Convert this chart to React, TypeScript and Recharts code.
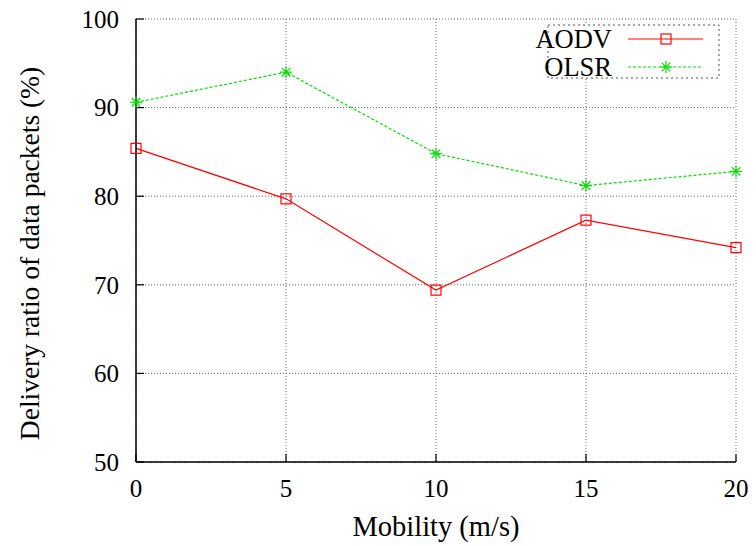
import React from 'react';
import { LineChart, Line, XAxis, YAxis, CartesianGrid, Legend } from 'recharts';

const mobility = [0, 5, 10, 15, 20];
const aodv = [85.4, 79.7, 69.4, 77.3, 74.2];
const olsr = [90.6, 94.0, 84.8, 81.2, 82.8];
const xTicks = [0, 5, 10, 15, 20];
const yTicks = [50, 60, 70, 80, 90, 100];

const data = mobility.map((m, i) => ({ m, aodv: aodv[i], olsr: olsr[i] }));

const FONT = 'Liberation Serif, Times New Roman, serif';
const FS = 25;
const RED = '#ff0000';
const GREEN = '#00e000';

const SquareDot = (props: any) => {
  const { cx, cy } = props;
  if (cx == null || cy == null) return null;
  return <rect x={cx - 5} y={cy - 5} width={10} height={10} fill="none" stroke={RED} strokeWidth={1.2} />;
};

const StarDot = (props: any) => {
  const { cx, cy } = props;
  if (cx == null || cy == null) return null;
  const r = 6;
  const d = 4.3;
  return (
    <g stroke={GREEN} strokeWidth={1.2}>
      <line x1={cx - r} y1={cy} x2={cx + r} y2={cy} />
      <line x1={cx} y1={cy - r} x2={cx} y2={cy + r} />
      <line x1={cx - d} y1={cy - d} x2={cx + d} y2={cy + d} />
      <line x1={cx - d} y1={cy + d} x2={cx + d} y2={cy - d} />
    </g>
  );
};

const LegendBox = () => (
  <svg width={200} height={64} style={{ display: 'block', overflow: 'visible' }}>
    <rect x={18} y={5} width={171} height={53} fill="#fff" stroke="#555" strokeDasharray="2 3" />
    <text x={82} y={28} textAnchor="end" fontFamily={FONT} fontSize={26.5} fill="#000">AODV</text>
    <line x1={98} y1={19} x2={173} y2={19} stroke={RED} strokeWidth={1.2} />
    <SquareDot cx={136} cy={19} />
    <text x={82} y={56} textAnchor="end" fontFamily={FONT} fontSize={26.5} fill="#000">OLSR</text>
    <line x1={98} y1={47} x2={173} y2={47} stroke={GREEN} strokeWidth={1.2} strokeDasharray="3 2" />
    <StarDot cx={136} cy={47} />
  </svg>
);

const YLabel = (props: any) => {
  const { viewBox } = props;
  const cy = viewBox.y + viewBox.height / 2 + 13;
  const cx = 29;
  return (
    <text x={cx} y={cy} transform={`rotate(-90 ${cx} ${cy})`} textAnchor="middle" dominantBaseline="central" fontFamily={FONT} fontSize={27.5} fill="#000">
      Delivery ratio of data packets (%)
    </text>
  );
};

const XLabel = (props: any) => {
  const { viewBox } = props;
  const cx = viewBox.x + viewBox.width / 2;
  return (
    <text x={cx} y={526} textAnchor="middle" dominantBaseline="central" fontFamily={FONT} fontSize={28.5} fill="#000">
      Mobility (m/s)
    </text>
  );
};

export default function App() {
  const tickStyle = { fontFamily: FONT, fontSize: FS, fill: '#000' };
  return (
    <div style={{ position: 'absolute', left: 0, top: 0, background: '#fff' }}>
      <LineChart width={756} height={546} data={data} margin={{ top: 19, right: 20, bottom: 54, left: 76 }}>
        <CartesianGrid stroke="#666" strokeDasharray="1 2" />
        <XAxis
          dataKey="m"
          type="number"
          domain={[0, 20]}
          ticks={xTicks}
          height={30}
          tickSize={-8}
          tickMargin={25}
          tick={tickStyle}
          axisLine={{ stroke: '#000', strokeWidth: 1.5 }}
          tickLine={{ stroke: '#000', strokeWidth: 1.2 }}
          label={<XLabel />}
        />
        <XAxis
          xAxisId="top"
          orientation="top"
          type="number"
          domain={[0, 20]}
          ticks={xTicks}
          height={0}
          tickSize={-8}
          tick={false}
          axisLine={{ stroke: '#000', strokeWidth: 1.5 }}
          tickLine={{ stroke: '#000', strokeWidth: 1.2 }}
        />
        <YAxis
          type="number"
          domain={[50, 100]}
          ticks={yTicks}
          width={60}
          tickSize={-8}
          tickMargin={25}
          tick={tickStyle}
          axisLine={{ stroke: '#000', strokeWidth: 1.5 }}
          tickLine={{ stroke: '#000', strokeWidth: 1.2 }}
          label={<YLabel />}
        />
        <YAxis
          yAxisId="right"
          orientation="right"
          type="number"
          domain={[50, 100]}
          ticks={yTicks}
          width={0}
          tickSize={-8}
          tick={false}
          axisLine={{ stroke: '#000', strokeWidth: 1.5 }}
          tickLine={{ stroke: '#000', strokeWidth: 1.2 }}
        />
        <Legend
          verticalAlign="middle"
          align="center"
          layout="horizontal"
          content={<LegendBox />}
          wrapperStyle={{ position: 'absolute', left: 530, top: 20, width: 200, height: 64 }}
        />
        <Line
          dataKey="aodv"
          name="AODV"
          stroke={RED}
          strokeWidth={1.2}
          dot={<SquareDot />}
          activeDot={false}
          isAnimationActive={false}
        />
        <Line
          dataKey="olsr"
          name="OLSR"
          stroke={GREEN}
          strokeWidth={1.2}
          strokeDasharray="3 2"
          dot={<StarDot />}
          activeDot={false}
          isAnimationActive={false}
        />
      </LineChart>
    </div>
  );
}
